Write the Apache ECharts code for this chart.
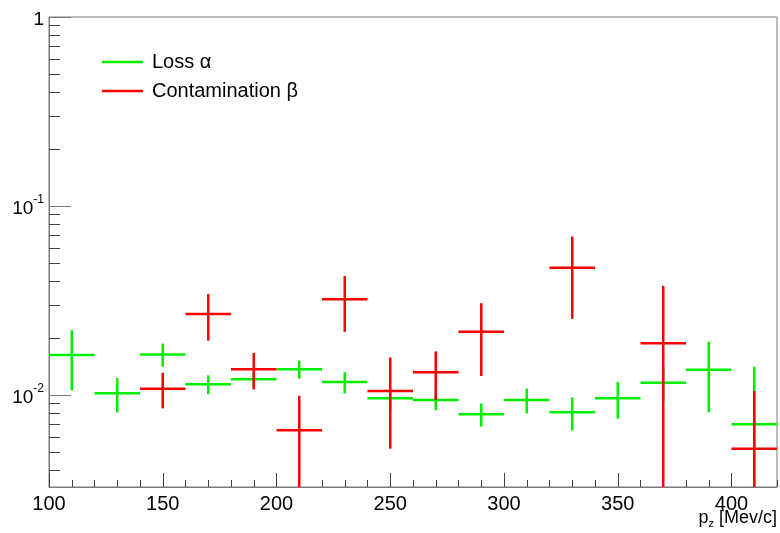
<!DOCTYPE html>
<html>
<head>
<meta charset="utf-8">
<script src="https://cdn.jsdelivr.net/npm/echarts@6/dist/echarts.min.js"></script>
<style>
  html, body { margin: 0; padding: 0; background: #fff; }
  #chart { width: 780px; height: 533px; }
</style>
</head>
<body>
<div id="chart"></div>
<script>
// bin centres (width 20) in p_z [Mev/c]
const binCenters = [110, 130, 150, 170, 190, 210, 230, 250, 270, 290, 310, 330, 350, 370, 390, 410];
const binHalfWidth = 10;

// Loss alpha (green)
const lossVals = [0.0163, 0.0102, 0.0164, 0.0114, 0.0121, 0.0137, 0.0117, 0.0096, 0.0094, 0.0079, 0.0094, 0.0081, 0.0096, 0.0116, 0.0136, 0.0070];
const lossErrs = [0.0057, 0.0021, 0.0023, 0.0013, 0.0010, 0.0015, 0.0015, 0.0012, 0.0011, 0.0011, 0.0014, 0.0016, 0.0021, 0.0025, 0.0055, 0.0071];

// Contamination beta (red), empty bins are null
const contVals = [null, null, 0.0108, 0.0268, 0.0137, 0.0065, 0.0321, 0.0105, 0.0132, 0.0216, null, 0.0471, null, 0.0188, null, 0.0052];
const contErrs = [null, null, 0.0023, 0.0074, 0.0030, 0.0034, 0.0105, 0.0053, 0.0038, 0.0090, null, 0.0218, null, 0.0190, null, 0.0053];

// axis ranges and ticks
const xMin = 100, xMax = 420;
const yMin = 0.00326, yMax = 1;
const xMajorTicks = [100, 150, 200, 250, 300, 350, 400];
const xMinorTicks = [110, 120, 130, 140, 160, 170, 180, 190, 210, 220, 230, 240, 260, 270, 280, 290,
  310, 320, 330, 340, 360, 370, 380, 390, 410, 420];
const yDecades = [0.01, 0.1, 1];
const yDecadeLabels = ['{b|10}{s|-2}', '{b|10}{s|-1}', '{b|1}'];
const yMinorTicks = [0.004, 0.005, 0.006, 0.007, 0.008, 0.009,
  0.02, 0.03, 0.04, 0.05, 0.06, 0.07, 0.08, 0.09,
  0.2, 0.3, 0.4, 0.5, 0.6, 0.7, 0.8, 0.9];
const xTitle = '{a|p}{z|z}{a| [Mev/c]}';

const font = 'Liberation Sans';
const axisGrey = '#7a7a7a';

function toData(vals, errs) {
  let res = [];
  for (let i = 0; i < binCenters.length; i++) {
    if (vals[i] == null) continue;
    res.push([binCenters[i], vals[i], errs[i]]);
  }
  return res;
}

function renderCross(params, api) {
  let x = api.value(0), v = api.value(1), e = api.value(2);
  let lo = Math.max(v - e, yMin); // clip to the frame
  let hi = Math.min(v + e, yMax);
  let left = api.coord([x - binHalfWidth, v]);
  let right = api.coord([x + binHalfWidth, v]);
  let top = api.coord([x, hi]);
  let bottom = api.coord([x, lo]);
  let style = { stroke: api.visual('color'), lineWidth: 2.5 };
  return {
    type: 'group',
    children: [
      { type: 'line', shape: { x1: left[0], y1: left[1], x2: right[0], y2: right[1] }, style: style },
      { type: 'line', shape: { x1: top[0], y1: top[1], x2: bottom[0], y2: bottom[1] }, style: style }
    ]
  };
}

let chart = echarts.init(document.getElementById('chart'));
chart.setOption({
  animation: false,
  textStyle: { fontFamily: font },
  grid: {
    left: 49, right: 3, top: 17, bottom: 46, containLabel: false, outerBoundsMode: 'none',
    show: true, borderColor: axisGrey, borderWidth: 1
  },
  legend: {
    left: 102, top: 51, orient: 'vertical', padding: 0,
    itemWidth: 41, itemHeight: 2.5, itemGap: 7, icon: 'rect',
    textStyle: { fontFamily: font, fontSize: 20, color: '#000', lineHeight: 22, padding: [0, 0, 0, 4] },
    data: ['Loss α', 'Contamination β']
  },
  // x axis title, right-aligned under the axis end
  graphic: [{
    type: 'text', right: 3, top: 509,
    style: {
      text: xTitle,
      rich: {
        a: { fontFamily: font, fontSize: 18, fill: '#000' },
        z: { fontFamily: font, fontSize: 11, fill: '#000', verticalAlign: 'bottom', padding: [12, 0, 0, 0] }
      }
    }
  }],
  xAxis: [{
    type: 'value', min: xMin, max: xMax, position: 'bottom',
    axisLine: { lineStyle: { color: axisGrey } },
    splitLine: { show: false },
    axisTick: { inside: true, length: 14, customValues: xMajorTicks, lineStyle: { color: '#444' } },
    axisLabel: { customValues: xMajorTicks, fontFamily: font, fontSize: 20, color: '#000', margin: 7 }
  }, {
    type: 'value', min: xMin, max: xMax, position: 'bottom',
    axisLine: { show: false }, splitLine: { show: false },
    axisTick: { inside: true, length: 7, customValues: xMinorTicks, lineStyle: { color: '#444' } },
    axisLabel: { show: false }
  }],
  yAxis: [{
    type: 'log', logBase: 10, min: yMin, max: yMax, position: 'left',
    axisLine: { show: true, lineStyle: { color: axisGrey } },
    splitLine: { show: false },
    axisTick: { inside: true, length: 22, customValues: yDecades, lineStyle: { color: axisGrey } },
    axisLabel: {
      customValues: yDecades, margin: 5,
      formatter: function (val) {
        for (let i = 0; i < yDecades.length; i++) {
          if (Math.abs(Math.log10(val) - Math.log10(yDecades[i])) < 1e-6) return yDecadeLabels[i];
        }
        return '';
      },
      rich: {
        b: { fontFamily: font, fontSize: 19, color: '#000', padding: [6, 0, 0, 0] },
        s: { fontFamily: font, fontSize: 12, color: '#000', verticalAlign: 'top', padding: [0, 0, 12, 0] }
      }
    }
  }, {
    type: 'log', logBase: 10, min: yMin, max: yMax, position: 'left',
    axisLine: { show: false }, splitLine: { show: false },
    axisTick: { inside: true, length: 11, customValues: yMinorTicks, lineStyle: { color: '#444' } },
    axisLabel: { show: false }
  }],
  series: [{
    name: 'Loss α', type: 'custom', xAxisIndex: 0, yAxisIndex: 0,
    itemStyle: { color: '#00ee00' },
    renderItem: renderCross,
    encode: { x: 0, y: 1 },
    data: toData(lossVals, lossErrs)
  }, {
    name: 'Contamination β', type: 'custom', xAxisIndex: 0, yAxisIndex: 0,
    itemStyle: { color: '#ff0000' },
    renderItem: renderCross,
    encode: { x: 0, y: 1 },
    data: toData(contVals, contErrs)
  }]
});
</script>
</body>
</html>
